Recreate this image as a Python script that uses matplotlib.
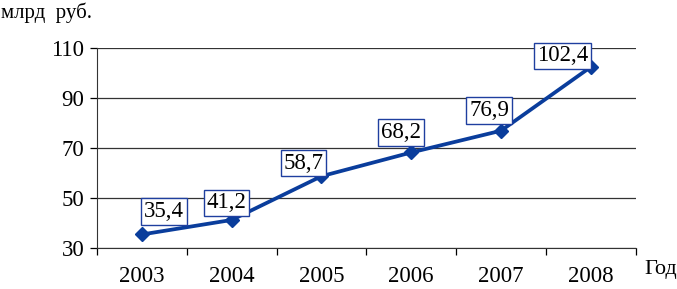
import matplotlib.pyplot as plt
import numpy as np

# === DATA ===
years = ["2003", "2004", "2005", "2006", "2007", "2008"]
values = [35.4, 41.2, 58.7, 68.2, 76.9, 102.4]
labels = ["35,4", "41,2", "58,7", "68,2", "76,9", "102,4"]
yticks = [30, 50, 70, 90, 110]

# label offsets in pixels (box centre relative to point)
offsets = [(22, 23), (-5, 17), (-18, 13), (-10, 20), (-12, 20), (-28, 11)]

plt.rcParams['font.family'] = ['Liberation Serif', 'DejaVu Serif']

fig = plt.figure(figsize=(6.77, 2.89), dpi=100)
ax = fig.add_axes([0.1433, 0.142, 0.7957, 0.692])

x = np.arange(len(years))
ax.plot(x, values, color='#0a3d9c', lw=2.7, marker='D', ms=7, zorder=3)

for xi, v, lab, (dx, dy) in zip(x, values, labels, offsets):
    ax.annotate(lab, (xi, v), xytext=(dx * 0.72, dy * 0.72), textcoords='offset points',
                ha='center', va='center', fontsize=16.5, zorder=4,
                bbox=dict(boxstyle='square,pad=0.12', fc='white', ec='#1f3f9f', lw=1.0))

ax.set_xlim(-0.5, len(years) - 0.5)
ax.set_ylim(30, 110)
ax.set_yticks(yticks)
ax.set_yticklabels([str(t) for t in yticks])
ax.set_xticks(x)
ax.set_xticklabels(years)
ax.set_xticks(np.arange(len(years) + 1) - 0.5, minor=True)
ax.tick_params(axis='x', which='major', length=0, pad=13, labelsize=16.5)
ax.tick_params(axis='x', which='minor', length=5, direction='out', width=0.9)
ax.tick_params(axis='y', length=5, width=0.9, labelsize=16.5, pad=4)

ax.grid(axis='y', color='#333333', lw=0.9)
ax.set_axisbelow(True)
for s in ['top', 'right']:
    ax.spines[s].set_visible(False)
ax.spines['left'].set_color('#333333')
ax.spines['bottom'].set_color('#333333')

fig.text(0.002, 0.955, "млрд  руб.", fontsize=15, ha='left', va='center')
fig.text(0.952, 0.068, "Год", fontsize=16, ha='left', va='center')

plt.savefig("out.png", dpi=100)
